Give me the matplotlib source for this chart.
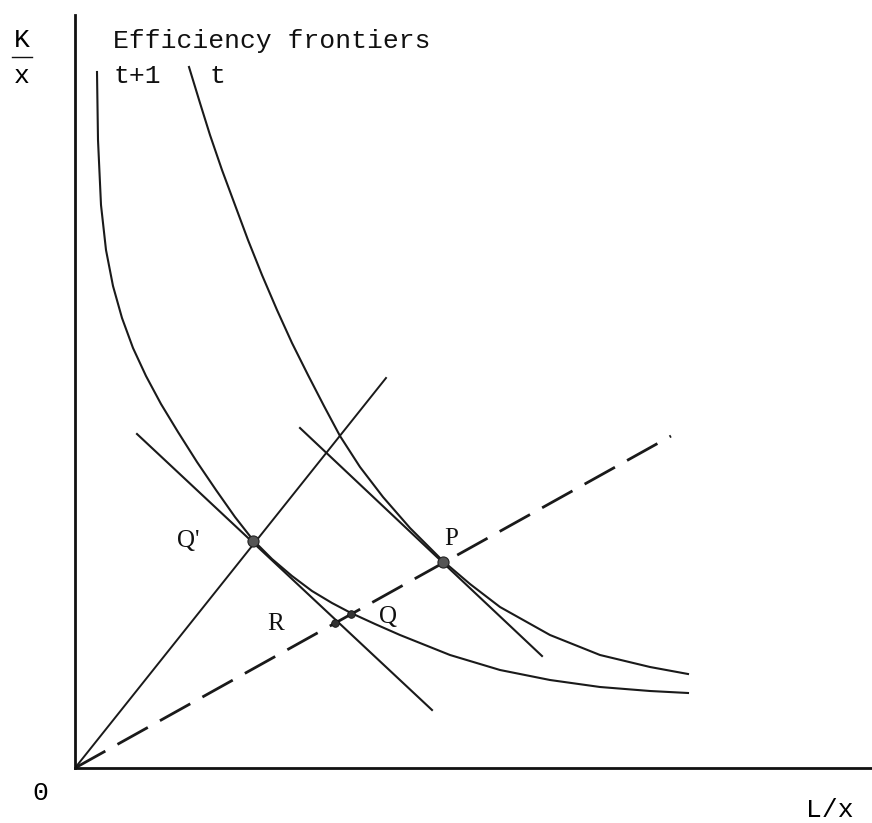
import matplotlib.pyplot as plt
from matplotlib.lines import Line2D

plt.rcParams['lines.scale_dashes'] = False

# efficiency frontier t+1 (L/x, K/x)
front_t1_x = [22, 23, 26, 31, 38, 47, 58, 71, 86, 103, 122, 141, 160, 178, 197, 217,
              237, 257, 276, 300, 325, 375, 425, 475, 525, 575, 613]
front_t1_y = [696, 628, 563, 518, 482, 450, 420, 392, 364, 336, 306, 278, 251, 228, 209, 192,
              177, 165, 155, 144, 133, 113, 98, 88, 81, 77, 75]

# efficiency frontier t
front_t_x = [114, 125, 135, 147, 160, 173, 187, 202, 217, 233, 249, 265, 285, 308, 335,
             368, 395, 425, 475, 525, 575, 613]
front_t_y = [701, 665, 633, 598, 563, 528, 493, 458, 425, 393, 362, 332, 301, 271, 240,
             207, 184, 161, 133, 113, 101, 94]

# rays from origin and tangent (price) lines
ray_x, ray_y = [0, 311], [0, 390]
dash_x, dash_y = [0, 596], [0, 332]
tan_q_x, tan_q_y = [62, 357], [334, 58]
tan_p_x, tan_p_y = [225, 467], [340, 112]

# marked points
big_pts = {"Q'": (178, 227), "P": (368, 206)}
small_pts = {"R": (260, 145), "Q": (276, 154)}

fig = plt.figure(figsize=(8.72, 8.23), dpi=100)
ax = fig.add_axes([75 / 872, 55 / 823, 797 / 872, 753 / 823])
ax.set_xlim(0, 797)
ax.set_ylim(0, 753)
for s in ['top', 'right']:
    ax.spines[s].set_visible(False)
for s in ['left', 'bottom']:
    ax.spines[s].set_linewidth(2.0)
    ax.spines[s].set_color('#111111')
ax.set_xticks([])
ax.set_yticks([])

col = '#1a1a1a'
ax.plot(front_t1_x, front_t1_y, color=col, lw=1.5)
ax.plot(front_t_x, front_t_y, color=col, lw=1.5)
ax.plot(ray_x, ray_y, color=col, lw=1.4)
ax.plot(tan_q_x, tan_q_y, color=col, lw=1.5)
ax.plot(tan_p_x, tan_p_y, color=col, lw=1.5)
ax.plot(dash_x, dash_y, color=col, lw=2.0, dashes=(25, 10), dash_capstyle='butt')

for k, (x, y) in big_pts.items():
    ax.plot(x, y, 'o', ms=8, color='#555555', mec='#222222', mew=0.8)
for k, (x, y) in small_pts.items():
    ax.plot(x, y, 'o', ms=5.5, color='#333333', mec='#111111', mew=0.6)

mono = 'Liberation Mono'
serif = 'Liberation Serif'
tkw = dict(clip_on=False, color='#111111')

# point labels
ax.text(113, 227, "Q'", family=serif, fontsize=18, ha='center', va='center', **tkw)
ax.text(376, 229, 'P', family=serif, fontsize=18, ha='center', va='center', **tkw)
ax.text(201, 144, 'R', family=serif, fontsize=18, ha='center', va='center', **tkw)
ax.text(313, 151, 'Q', family=serif, fontsize=18, ha='center', va='center', **tkw)

# header texts
ax.text(38, 727, 'Efficiency frontiers', family=mono, fontsize=19, ha='left', va='center', **tkw)
ax.text(38, 692, 't+1', family=mono, fontsize=19, ha='left', va='center', **tkw)
ax.text(134, 692, 't', family=mono, fontsize=19, ha='left', va='center', **tkw)

# axis labels
fig.text(22 / 872, 1 - 40 / 823, 'K', family=mono, fontsize=19, ha='center', va='center')
fig.text(22 / 872, 1 - 76 / 823, 'x', family=mono, fontsize=19, ha='center', va='center')
fig.add_artist(Line2D([12 / 872, 32 / 872], [1 - 57 / 823, 1 - 57 / 823],
                      color='#111111', lw=1.0))
fig.text(40 / 872, 1 - 793 / 823, '0', family=mono, fontsize=19, ha='center', va='center')
fig.text(830 / 872, 1 - 810 / 823, 'L/x', family=mono, fontsize=19, ha='center', va='center')

fig.savefig('out.png', dpi=100, facecolor='white')
